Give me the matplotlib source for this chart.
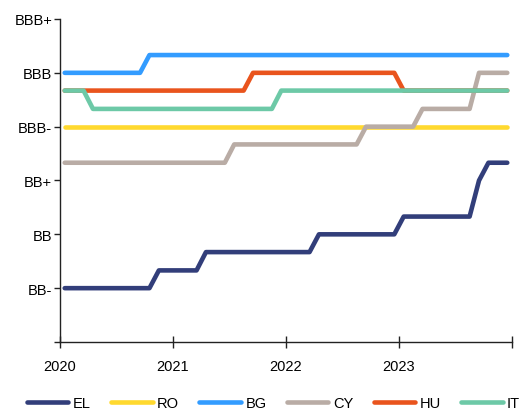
import numpy as np
import matplotlib
matplotlib.use('Agg')
import matplotlib.pyplot as plt

plt.rcParams['font.family'] = ['Liberation Sans', 'DejaVu Sans']
plt.rcParams['font.size'] = 10.5

# Monthly observations, Jan 2020 - Dec 2023 (plotted mid-month).
# Rating scale: 1 = BB-, 2 = BB, 3 = BB+, 4 = BBB-, 5 = BBB, 6 = BBB+
months = np.arange(48)

EL = [1.0, 1.0, 1.0, 1.0, 1.0, 1.0, 1.0, 1.0, 1.0, 1.0, 1.33, 1.33,
      1.33, 1.33, 1.33, 1.67, 1.67, 1.67, 1.67, 1.67, 1.67, 1.67, 1.67, 1.67,
      1.67, 1.67, 1.67, 2.0, 2.0, 2.0, 2.0, 2.0, 2.0, 2.0, 2.0, 2.0,
      2.33, 2.33, 2.33, 2.33, 2.33, 2.33, 2.33, 2.33, 3.0, 3.33, 3.33, 3.33]
RO = [4.0] * 48
BG = [5.0, 5.0, 5.0, 5.0, 5.0, 5.0, 5.0, 5.0, 5.0, 5.33, 5.33, 5.33,
      5.33, 5.33, 5.33, 5.33, 5.33, 5.33, 5.33, 5.33, 5.33, 5.33, 5.33, 5.33,
      5.33, 5.33, 5.33, 5.33, 5.33, 5.33, 5.33, 5.33, 5.33, 5.33, 5.33, 5.33,
      5.33, 5.33, 5.33, 5.33, 5.33, 5.33, 5.33, 5.33, 5.33, 5.33, 5.33, 5.33]
CY = [3.33, 3.33, 3.33, 3.33, 3.33, 3.33, 3.33, 3.33, 3.33, 3.33, 3.33, 3.33,
      3.33, 3.33, 3.33, 3.33, 3.33, 3.33, 3.67, 3.67, 3.67, 3.67, 3.67, 3.67,
      3.67, 3.67, 3.67, 3.67, 3.67, 3.67, 3.67, 3.67, 4.0, 4.0, 4.0, 4.0,
      4.0, 4.0, 4.33, 4.33, 4.33, 4.33, 4.33, 4.33, 5.0, 5.0, 5.0, 5.0]
HU = [4.67, 4.67, 4.67, 4.67, 4.67, 4.67, 4.67, 4.67, 4.67, 4.67, 4.67, 4.67,
      4.67, 4.67, 4.67, 4.67, 4.67, 4.67, 4.67, 4.67, 5.0, 5.0, 5.0, 5.0,
      5.0, 5.0, 5.0, 5.0, 5.0, 5.0, 5.0, 5.0, 5.0, 5.0, 5.0, 5.0,
      4.67, 4.67, 4.67, 4.67, 4.67, 4.67, 4.67, 4.67, 4.67, 4.67, 4.67, 4.67]
IT = [4.67, 4.67, 4.67, 4.33, 4.33, 4.33, 4.33, 4.33, 4.33, 4.33, 4.33, 4.33,
      4.33, 4.33, 4.33, 4.33, 4.33, 4.33, 4.33, 4.33, 4.33, 4.33, 4.33, 4.67,
      4.67, 4.67, 4.67, 4.67, 4.67, 4.67, 4.67, 4.67, 4.67, 4.67, 4.67, 4.67,
      4.67, 4.67, 4.67, 4.67, 4.67, 4.67, 4.67, 4.67, 4.67, 4.67, 4.67, 4.67]

series_names = ['EL', 'RO', 'BG', 'CY', 'HU', 'IT']
series_values = [EL, RO, BG, CY, HU, IT]
colors = ['#323E7A', '#FFD92F', '#339CFF', '#B9ACA5', '#E9541D', '#6DC9A7']

rating_labels = ['', 'BB-', 'BB', 'BB+', 'BBB-', 'BBB', 'BBB+']
year_labels = ['2020', '2021', '2022', '2023', '']

x = 2020 + (months + 0.5) / 12

fig = plt.figure(figsize=(5.25, 4.14), dpi=100)
ax = fig.add_axes([0.1143, 0.1715, 0.8609, 0.7802])

for name, vals, c in zip(series_names, series_values, colors):
    ax.plot(x, vals, color=c, lw=3.3, label=name,
            solid_capstyle='round', solid_joinstyle='round')

ax.set_xlim(2020, 2024)
ax.set_ylim(0, 6)
ax.set_xticks([2020, 2021, 2022, 2023, 2024])
ax.set_xticklabels(year_labels)
ax.set_yticks(range(7))
ax.set_yticklabels(rating_labels)

for s in ['top', 'right']:
    ax.spines[s].set_visible(False)
for s in ['left', 'bottom']:
    ax.spines[s].set_linewidth(1.0)
    ax.spines[s].set_color('#222222')

ax.tick_params(axis='x', direction='inout', length=9, width=1.0, pad=8,
               colors='#222222', labelcolor='black', labelsize=10.5)
ax.tick_params(axis='y', direction='out', length=4, width=1.0, pad=1.5,
               colors='#222222', labelcolor='black', labelsize=10.5)

ax.legend(loc='center', bbox_to_anchor=(0.521, 0.025),
          bbox_transform=fig.transFigure, ncol=6, frameon=False,
          handlelength=2.85, handletextpad=0.3, columnspacing=1.4,
          fontsize=10.5, borderpad=0)

fig.savefig('out.png', dpi=100)
